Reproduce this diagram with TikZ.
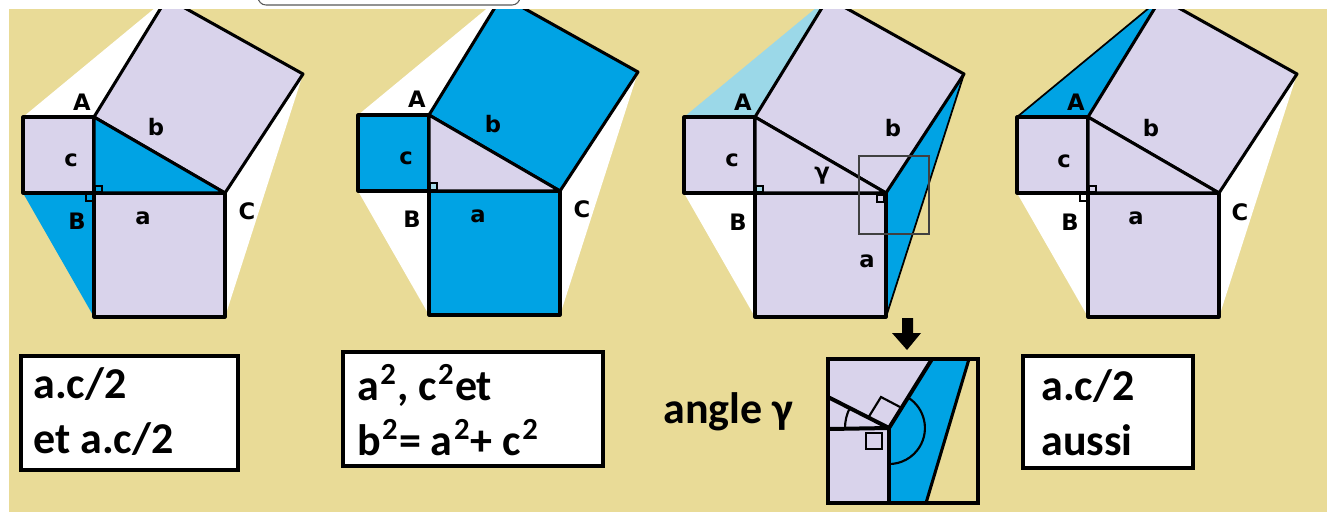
\documentclass[tikz,border=0pt]{standalone}
\usepackage{fontspec}
\newfontfamily\labfont{DejaVu Sans}
\newfontfamily\boxfont{Carlito}
\definecolor{tanbg}{RGB}{233,219,151}
\definecolor{lav}{RGB}{217,211,235}
\definecolor{blueA}{RGB}{0,163,228}
\definecolor{lightB}{RGB}{155,216,232}
\definecolor{markB}{RGB}{165,218,232}
\newcommand\pythcoords{%
  \coordinate (P1) at (23,117);
  \coordinate (A) at (94,117);
  \coordinate (B) at (94,193);
  \coordinate (P2) at (23,193);
  \coordinate (C) at (225,193);
  \coordinate (Q1) at (94,317);
  \coordinate (Q2) at (225,317);
  \coordinate (Cb) at (303,74);
  \coordinate (Ab) at (167,-2);
}
\newcommand\supii{\kern1pt\raisebox{12pt}{\fontsize{23pt}{23pt}\selectfont 2}\kern1pt}
\begin{document}
\begin{tikzpicture}[x=0.75pt,y=-0.75pt,
  sq/.style={draw=black,line width=2.3pt,line join=round},
  ramark/.style={draw=black,line width=1.1pt},
  lab/.style={font=\labfont\bfseries\fontsize{17pt}{17pt}\selectfont,inner sep=0pt},
  boxtxt/.style={font=\boxfont\bfseries\fontsize{33pt}{33pt}\selectfont,inner sep=0pt,anchor=base west},
  textbox/.style={draw=black,line width=2.3pt,fill=white}]
\useasboundingbox (0,0) rectangle (1327,512);
\fill[white] (0,0) rectangle (1327,512);
\fill[tanbg] (9,9) rectangle (1327,512);
% top UI box
\draw[draw=black!65,line width=0.8pt,rounded corners=6pt,fill=white] (258,-30) rectangle (520,5);

\begin{scope}
\clip (9,9) rectangle (1327,345);
% ---------- figure 1
\begin{scope}
\pythcoords
\fill[white] (P1) -- (A) -- (Ab) -- cycle;
\fill[blueA] (P2) -- (B) -- (Q1) -- cycle;
\fill[white] (C) -- (Cb) -- (Q2) -- cycle;
\filldraw[sq,fill=lav] (P1) rectangle (B);
\filldraw[sq,fill=lav] (B) rectangle (Q2);
\filldraw[sq,fill=lav] (A) -- (Ab) -- (Cb) -- (C) -- cycle;
\filldraw[sq,fill=blueA] (A) -- (B) -- (C) -- cycle;
\draw[ramark] (95,186) rectangle (102,192);
\draw[ramark] (86,194) rectangle (93,201);
\node[lab] (f1A) at (82,102) {A};
\node[lab] (f1b) at (156,127) {b};
\node[lab] (f1c) at (71,160) {c};
\node[lab] (f1B) at (77,221) {B};
\node[lab] (f1a) at (143,218) {a};
\node[lab] (f1C) at (247,211) {C};
\end{scope}
% ---------- figure 2
\begin{scope}[shift={(335,-2)}]
\pythcoords
\fill[white] (P1) -- (A) -- (Ab) -- cycle;
\fill[white] (P2) -- (B) -- (Q1) -- cycle;
\fill[white] (C) -- (Cb) -- (Q2) -- cycle;
\filldraw[sq,fill=blueA] (P1) rectangle (B);
\filldraw[sq,fill=blueA] (B) rectangle (Q2);
\filldraw[sq,fill=blueA] (A) -- (Ab) -- (Cb) -- (C) -- cycle;
\filldraw[sq,fill=lav] (A) -- (B) -- (C) -- cycle;
\filldraw[ramark,fill=markB] (95,185) rectangle (102,192);
\node[lab] (f2A) at (82,101) {A};
\node[lab] (f2b) at (158,126) {b};
\node[lab] (f2c) at (71,160) {c};
\node[lab] (f2B) at (77,221) {B};
\node[lab] (f2a) at (143,218) {a};
\node[lab] (f2C) at (247,211) {C};
\end{scope}
% ---------- figure 3
\begin{scope}[shift={(661,0)}]
\pythcoords
\fill[lightB] (P1) -- (A) -- (Ab) -- cycle;
\fill[white] (P2) -- (B) -- (Q1) -- cycle;
\fill[blueA] (C) -- (Cb) -- (Q2) -- cycle;
\draw[line width=1.3pt] (Cb) -- (Q2);
\filldraw[sq,fill=lav] (P1) rectangle (B);
\filldraw[sq,fill=lav] (B) rectangle (Q2);
\filldraw[sq,fill=lav] (A) -- (Ab) -- (Cb) -- (C) -- cycle;
\filldraw[sq,fill=lav] (A) -- (B) -- (C) -- cycle;
\filldraw[ramark,fill=markB] (95,186) rectangle (102,192);
\draw[ramark] (216,195) rectangle (223,202);
\draw[draw=black!75,line width=0.8pt] (198,156) rectangle (268,234);
\node[lab] (f3A) at (82,102) {A};
\node[lab] (f3c) at (71,160) {c};
\node[lab] (f3g) at (161,176) {γ};
\node[lab] (f3b) at (232,128) {b};
\node[lab] (f3B) at (77,222) {B};
\node[lab] (f3a) at (206,261) {a};
\end{scope}
% ---------- figure 4
\begin{scope}[shift={(994,0)}]
\pythcoords
\fill[blueA] (P1) -- (A) -- (Ab) -- cycle;
\draw[line width=1.3pt] (P1) -- (Ab);
\fill[white] (P2) -- (B) -- (Q1) -- cycle;
\fill[white] (C) -- (Cb) -- (Q2) -- cycle;
\filldraw[sq,fill=lav] (P1) rectangle (B);
\filldraw[sq,fill=lav] (B) rectangle (Q2);
\filldraw[sq,fill=lav] (A) -- (Ab) -- (Cb) -- (C) -- cycle;
\filldraw[sq,fill=lav] (A) -- (B) -- (C) -- cycle;
\draw[ramark] (95,186) rectangle (102,192);
\draw[ramark] (86,194) rectangle (93,201);
\node[lab] (f4A) at (82,102) {A};
\node[lab] (f4b) at (157,128) {b};
\node[lab] (f4c) at (70,161) {c};
\node[lab] (f4B) at (76,222) {B};
\node[lab] (f4a) at (142,218) {a};
\node[lab] (f4C) at (246,212) {C};
\end{scope}
\end{scope}

% ---------- arrow
\fill[black] (902,318) -- (913,318) -- (913,333) -- (921,333) -- (907,350) -- (892,333) -- (902,333) -- cycle;

% ---------- inset
\begin{scope}
\clip (828,359) rectangle (978,503);
\coordinate (Ci) at (889,428);
\fill[lav] (828,359) rectangle (978,503);
\fill[blueA] (Ci) -- (932,359) -- (969,359) -- (926,503) -- (889,503) -- cycle;
\fill[tanbg] (969,359) -- (978,359) -- (978,503) -- (926,503) -- cycle;
\draw[line width=1.6pt] (866,433) rectangle (882,449);
\draw[line width=1.6pt] (868,418) -- (881,397) -- (900,407);
\draw[line width=1.6pt] (845,428) arc[start angle=180,end angle=207,radius=44];
\draw[line width=1.6pt] (908,397.5) arc[start angle=-58,end angle=90,radius=36];
\draw[line width=3pt] (828,397) -- (Ci);
\draw[line width=3pt] (828,429) -- (Ci);
\draw[line width=3.5pt] (Ci) -- (889,503);
\draw[line width=3pt] (Ci) -- (932,359);
\draw[line width=2.3pt] (926,503) -- (969,359);
\end{scope}
\draw[line width=2.3pt] (828,359) rectangle (978,503);

% ---------- text boxes
\draw[textbox] (21,356) rectangle (238,470);
\node[boxtxt] (t1a) at (33,398) {a.c/2};
\node[boxtxt] (t1b) at (33,453) {et a.c/2};
\draw[textbox] (343,352) rectangle (603,466);
\node[boxtxt] (t2a) at (357,400) {a\supii, c\supii et};
\node[boxtxt] (t2b) at (357,455) {b\supii= a\supii+ c\supii};
\node[boxtxt] (t3) at (663,423) {angle γ};
\draw[textbox] (1023,356) rectangle (1193,468);
\node[boxtxt] (t4a) at (1041,400) {a.c/2};
\node[boxtxt] (t4b) at (1041,455) {aussi};
\end{tikzpicture}
\end{document}
